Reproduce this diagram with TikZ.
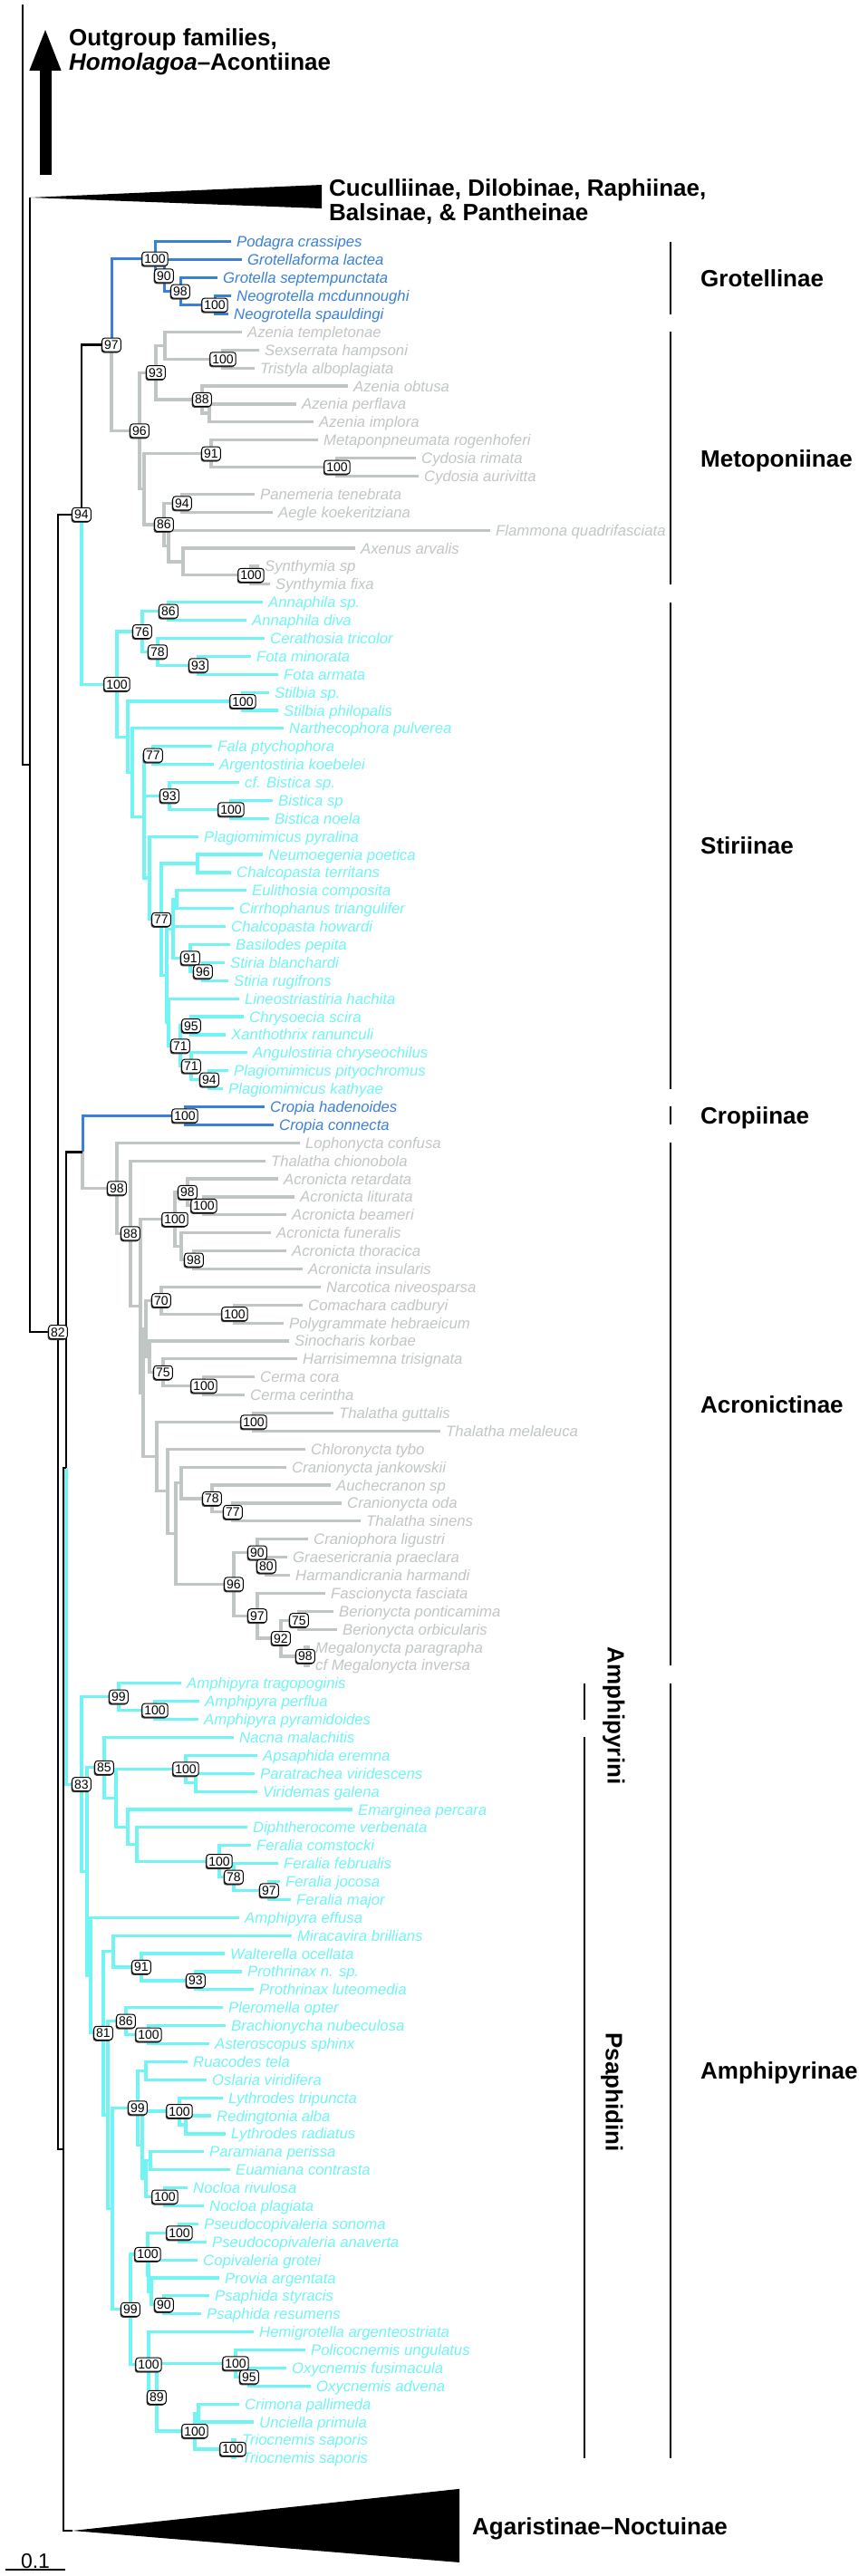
\documentclass[tikz,border=0pt]{standalone}
\usepackage{fontspec}
\setmainfont{Liberation Sans}
\usetikzlibrary{arrows.meta, shadows}
\definecolor{grotblue}{RGB}{58,128,214}
\definecolor{metgray}{RGB}{192,198,196}
\definecolor{stircyan}{RGB}{112,244,244}

\begin{document}
\begin{tikzpicture}[x=1pt, y=-19.885pt,
  taxon/.style={anchor=west, inner xsep=6pt, inner ysep=0pt, font=\fontsize{16.7}{18}\selectfont\itshape, text height=12pt, text depth=0pt},
  inode/.style={inner sep=0pt, outer sep=0pt, minimum size=0pt},
  boot/.style={draw=black, fill=white, rounded corners=3pt, line width=1pt, inner xsep=2.5pt, inner ysep=2.5pt, font=\fontsize{14}{14}\selectfont, text height=10pt, text depth=0pt,
    drop shadow={shadow xshift=-1pt, shadow yshift=-1.5pt, fill=black!75, opacity=1}},
  blk/.style={draw=black, line width=2.5pt},
  bluebr/.style={draw=grotblue, line width=3pt},
  graybr/.style={draw=metgray, line width=3.2pt},
  cyanbr/.style={draw=stircyan, line width=3.2pt},
  cladebar/.style={draw=black, line width=2.5pt},
  grp/.style={anchor=west, inner sep=0pt, font=\fontsize{26}{29}\selectfont\bfseries, text height=19pt, text depth=0pt},
  grptwo/.style={anchor=west, inner sep=0pt, align=left, font=\fontsize{26}{27}\selectfont\bfseries}
]
  \useasboundingbox (0,-12.4273) rectangle (948,130.546);

  % internal nodes
  \foreach \n/\x/\y in {rtop/25/-12.18, nA/33/30.02, cuc/33/-1.464, n82/64/61.5, nE/70/106.87, nC/73/69.05, agar/80/128.03,
    gN/237/4.5, g98/199/3.75, g90/181/2.875, g100/171/1.94,
    m100a/246/7.5, mU2/182/6.75, mU3/231/10.5, m88/223/9.75, m93/172/8.25, m100b/372/13.5, m91/233/12.75, m94/201/15.5,
    m100c/277/19.5, mU5/202/18.75, mU4/186/17.875, m86/181/16.69, mU1/159/14.72, m96/154/11.48, n97/123/6.71,
    s86/186/21.5, s93f/219/24.5, s78/174/23.75, s76/157/22.625, s100st/268/26.5, s77a/169/29.5, s100bi/255/32.5, s93b/187/31.75,
    sU10/218/35.5, sU12/195/37.5, s96/224/41.5, s91/210/40.75, sU13/191/39.125, s95/211/44.5, s94b/231/47.5, s71b/211/46.75,
    s71a/199/45.625, sU15/186/44.31, sU14/184/41.72, s77b/178/38.61, sU19/165/36.3, sU9/159/32.9, sU8/146/30.45, sU7/141/28.48,
    s100/129/25.55, n94/90/16.13,
    c100/204/49.5,
    a100lb/225/54.5, a98a/207/53.75, a98b/214/57.5, aU22/200/56.75, a100acr/193/55.25, a100cp/259/60.5, a70/178/59.75,
    a100ce/225/64.5, a75/180/63.75, aU24/165/62.875, aU23/161/61.31, a100th/280/66.5, a77c/257/71.5, a78c/234/70.75,
    aU28/200/69.875, a80/294/74.5, a90/284/73.75, a98c/337/79.5, a75b/330/77.5, a92/310/78.5, a97/284/77.25, a96/258/75.5,
    aU27/194/72.69, aU26/185/70.34, aU25/173/68.42, aU21/158/64.87, aU20/155/60.06, a88/144/56.03, a98/129/53.52, cU6/91/51.51,
    p100am/171/82.5, p99am/131/81.75, pU31/216/86.5, p100ap/205/85.75, p97fe/297/92.5, p78fe/258/91.75, p100fe/242/90.875,
    pU33/151/89.94, pU32/141/88.97, pU35/128/87.36, p85/115/85.68, p93p/216/97.5, p91p/156/96.75, pU36/125/95.875,
    p100br/164/100.5, p86p/139/99.75, pU40/161/102.5, pU42/205/105.5, p100ly/198/104.75, pU44/166/107.5, p100no/182/109.5,
    pU45/161/108.5, pU46/157/106.625, p99ps1/152/104.56, p100pc/198/111.5, p90ps/181/115.5, pU47/167/114.75, pU48/164/113.875,
    p100cv/163/112.69, p95ox/275/119.5, p100ox/260/118.75, pU50/219/121.5, p100tr/257/123.5, p100cr2/215/122.5, p89/173/120.625,
    p100he/164/118.81, p99ps2/144/115.75, pU38/124/110.16, pU51/119/104.95, p81/114/100.41, pU39/100/97.2, pP0/96/91.44, p83/90/86.6}
    \node[inode] (\n) at (\x,\y) {};

  % taxa
  \foreach \x/\txt [count=\i from 1] in {255/Podagra crassipes, 267/Grotellaforma lactea, 240/Grotella septempunctata,
    255/Neogrotella mcdunnoughi, 252/Neogrotella spauldingi}
    \node[taxon, text=grotblue] (t\i) at (\x,\i) {\txt};
  \foreach \x/\txt [count=\i from 6] in {267/Azenia templetonae, 286/Sexserrata hampsoni, 281/Tristyla alboplagiata,
    384/Azenia obtusa, 327/Azenia perflava, 346/Azenia implora, 351/Metaponpneumata rogenhoferi, 459/Cydosia rimata,
    462/Cydosia aurivitta, 281/Panemeria tenebrata, 301/Aegle koekeritziana, 541/Flammona quadrifasciata,
    392/Axenus arvalis, 286/Synthymia sp, 298/Synthymia fixa}
    \node[taxon, text=metgray] (t\i) at (\x,\i) {\txt};
  \foreach \x/\txt [count=\i from 21] in {290/Annaphila sp., 272/Annaphila diva, 292/Cerathosia tricolor, 277/Fota minorata,
    307/Fota armata, 297/Stilbia sp., 307/Stilbia philopalis, 313/Narthecophora pulverea, 234/Fala ptychophora,
    236/Argentostiria koebelei, 264/cf. Bistica sp., 301/Bistica sp, 297/Bistica noela, 219/Plagiomimicus pyralina,
    290/Neumoegenia poetica, 255/Chalcopasta territans, 272/Eulithosia composita, 258/Cirrhophanus triangulifer,
    249/Chalcopasta howardi, 254/Basilodes pepita, 248/Stiria blanchardi, 252/Stiria rugifrons,
    264/Lineostriastiria hachita, 269/Chrysoecia scira, 249/Xanthothrix ranunculi, 273/Angulostiria chryseochilus,
    252/Plagiomimicus pityochromus, 246/Plagiomimicus kathyae}
    \node[taxon, text=stircyan] (t\i) at (\x,\i) {\txt};
  \foreach \x/\txt [count=\i from 49] in {292/Cropia hadenoides, 302/Cropia connecta}
    \node[taxon, text=grotblue] (t\i) at (\x,\i) {\txt};
  \foreach \x/\txt [count=\i from 51] in {331/Lophonycta confusa, 293/Thalatha chionobola, 307/Acronicta retardata,
    325/Acronicta liturata, 316/Acronicta beameri, 299/Acronicta funeralis, 316/Acronicta thoracica,
    334/Acronicta insularis, 354/Narcotica niveosparsa, 334/Comachara cadburyi, 313/Polygrammate hebraeicum,
    319/Sinocharis korbae, 328/Harrisimemna trisignata, 281/Cerma cora, 270/Cerma cerintha, 368/Thalatha guttalis,
    486/Thalatha melaleuca, 337/Chloronycta tybo, 316/Cranionycta jankowskii, 365/Auchecranon sp, 377/Cranionycta oda,
    398/Thalatha sinens, 340/Craniophora ligustri, 317/Graesericrania praeclara, 320/Harmandicrania harmandi,
    359/Fascionycta fasciata, 368/Berionycta ponticamima, 372/Berionycta orbicularis, 342/Megalonycta paragrapha,
    342/cf Megalonycta inversa}
    \node[taxon, text=metgray] (t\i) at (\x,\i) {\txt};
  \foreach \x/\txt [count=\i from 81] in {200/Amphipyra tragopoginis, 220/Amphipyra perflua, 219/Amphipyra pyramidoides,
    258/Nacna malachitis, 284/Apsaphida eremna, 281/Paratrachea viridescens, 284/Viridemas galena, 389/Emarginea percara,
    273/Diphtherocome verbenata, 277/Feralia comstocki, 307/Feralia februalis, 309/Feralia jocosa, 321/Feralia major,
    264/Amphipyra effusa, 322/Miracavira brillians, 248/Walterella ocellata, 267/Prothrinax n. sp.,
    280/Prothrinax luteomedia, 246/Pleromella opter, 249/Brachionycha nubeculosa, 231/Asteroscopus sphinx,
    207/Ruacodes tela, 228/Oslaria viridifera, 246/Lythrodes tripuncta, 233/Redingtonia alba, 249/Lythrodes radiatus,
    225/Paramiana perissa, 254/Euamiana contrasta, 207/Nocloa rivulosa, 225/Nocloa plagiata,
    219/Pseudocopivaleria sonoma, 228/Pseudocopivaleria anaverta, 218/Copivaleria grotei, 242/Provia argentata,
    231/Psaphida styracis, 222/Psaphida resumens, 280/Hemigrotella argenteostriata, 337/Policocnemis ungulatus,
    316/Oxycnemis fusimacula, 343/Oxycnemis advena, 264/Crimona pallimeda, 280/Unciella primula,
    261/Triocnemis saporis, 261/Triocnemis saporis}
    \node[taxon, text=stircyan] (t\i) at (\x,\i) {\txt};

  % branches
  \foreach \p/\c in {n97/m96, m96/m93, m96/mU1, m93/mU2, m93/m88, mU2/t6, mU2/m100a, m100a/t7, m100a/t8, m88/t9, m88/mU3,
    mU3/t10, mU3/t11, mU1/m91, mU1/m86, m91/t12, m91/m100b, m100b/t13, m100b/t14, m86/m94, m86/mU4, m94/t15, m94/t16,
    mU4/t17, mU4/mU5, mU5/t18, mU5/m100c, m100c/t19, m100c/t20,
    cU6/a98, a98/t51, a98/a88, a88/t52, a88/aU20, aU20/a100acr, aU20/aU21, a100acr/a98a, a100acr/aU22, a98a/t53,
    a98a/a100lb, a100lb/t54, a100lb/t55, aU22/t56, aU22/a98b, a98b/t57, a98b/t58, aU21/aU23, aU21/aU25, aU23/a70,
    aU23/aU24, a70/t59, a70/a100cp, a100cp/t60, a100cp/t61, aU24/t62, aU24/a75, a75/t63, a75/a100ce, a100ce/t64,
    a100ce/t65, aU25/a100th, aU25/aU26, a100th/t66, a100th/t67, aU26/t68, aU26/aU27, aU27/aU28, aU27/a96, aU28/t69,
    aU28/a78c, a78c/t70, a78c/a77c, a77c/t71, a77c/t72, a96/a90, a96/a97, a90/t73, a90/a80, a80/t74, a80/t75, a97/t76,
    a97/a92, a92/a75b, a92/a98c, a75b/t77, a75b/t78, a98c/t79, a98c/t80}
    \draw[graybr] (\p) |- (\c.west);
  \foreach \p/\c in {n94/s100, s100/s76, s100/sU7, s76/s86, s76/s78, s86/t21, s86/t22, s78/t23, s78/s93f, s93f/t24,
    s93f/t25, sU7/s100st, sU7/sU8, s100st/t26, s100st/t27, sU8/t28, sU8/sU9, sU9/s77a, sU9/s93b, sU9/sU19, s77a/t29,
    s77a/t30, s93b/t31, s93b/s100bi, s100bi/t32, s100bi/t33, sU19/t34, sU19/s77b, s77b/sU10, s77b/sU14, sU10/t35,
    sU10/t36, sU14/sU13, sU14/sU15, sU13/sU12, sU13/t39, sU13/s91, sU12/t37, sU12/t38, s91/t40, s91/s96, s96/t41,
    s96/t42, sU15/t43, sU15/s71a, s71a/s95, s71a/s71b, s95/t44, s95/t45, s71b/t46, s71b/s94b, s94b/t47, s94b/t48,
    nC/p83, p83/p99am, p83/pP0, p99am/t81, p99am/p100am, p100am/t82, p100am/t83, pP0/p85, pP0/pU39, p85/t84, p85/pU35,
    pU35/p100ap, pU35/pU32, p100ap/t85, p100ap/pU31, pU31/t86, pU31/t87, pU32/t88, pU32/pU33, pU33/t89, pU33/p100fe,
    p100fe/t90, p100fe/p78fe, p78fe/t91, p78fe/p97fe, p97fe/t92, p97fe/t93, pU39/t94, pU39/p81, p81/pU36, p81/pU51,
    pU36/t95, pU36/p91p, p91p/t96, p91p/p93p, p93p/t97, p93p/t98, pU51/p86p, pU51/pU38, p86p/t99, p86p/p100br,
    p100br/t100, p100br/t101, pU38/p99ps1, pU38/p99ps2, p99ps1/pU40, p99ps1/pU46, pU40/t102, pU40/t103, pU46/p100ly,
    pU46/pU45, p100ly/t104, p100ly/pU42, pU42/t105, pU42/t106, pU45/pU44, pU45/p100no, pU44/t107, pU44/t108,
    p100no/t109, p100no/t110, p99ps2/p100cv, p99ps2/p100he, p100cv/p100pc, p100cv/pU48, p100pc/t111, p100pc/t112,
    pU48/t113, pU48/pU47, pU47/t114, pU47/p90ps, p90ps/t115, p90ps/t116, p100he/t117, p100he/p89, p89/p100ox,
    p89/p100cr2, p100ox/t118, p100ox/p95ox, p95ox/t119, p95ox/t120, p100cr2/pU50, p100cr2/p100tr, pU50/t121,
    pU50/t122, p100tr/t123, p100tr/t124}
    \draw[cyanbr] (\p) |- (\c.west);
  \foreach \p/\c in {n97/g100, g100/t1, g100/g90, g90/t2, g90/g98, g98/t3, g98/gN, gN/t4, gN/t5,
    cU6/c100, c100/t49, c100/t50}
    \draw[bluebr] (\p) |- (\c.west);
  \foreach \p/\c in {rtop/nA, nA/cuc, nA/n82, n82/n94, n82/nE, n94/n97, nE/nC, nE/agar, nC/cU6}
    \draw[blk] (\p) |- (\c.west);

  % collapsed clades and outgroup arrow
  \fill (cuc) -- (355,-2.168) -- (355,-0.86) -- cycle;
  \fill (agar) -- (507,125.71) -- (507,129.79) -- cycle;
  \coordinate (ogbase) at (50,-2.72);
  \coordinate (ogtip) at (50,-10.92);
  \draw[line width=13pt, -{Triangle[length=48pt, width=31pt]}] (ogbase) -- (ogtip);

  % bootstrap values
  \foreach \n/\v in {g100/100, g90/90, g98/98, gN/100, n97/97, n94/94, m96/96, m93/93, m100a/100, m88/88, m91/91,
    m100b/100, m94/94, m86/86, m100c/100, s100/100, s86/86, s76/76, s78/78, s93f/93, s100st/100, s77a/77, s93b/93,
    s100bi/100, s77b/77, s91/91, s96/96, s95/95, s71a/71, s71b/71, s94b/94, c100/100, a98/98, a88/88, a98a/98,
    a100lb/100, a100acr/100, a98b/98, a70/70, a100cp/100, a75/75, a100ce/100, a100th/100, a78c/78, a77c/77, a96/96,
    a90/90, a80/80, a97/97, a75b/75, a92/92, a98c/98, p99am/99, p100am/100, p83/83, p85/85, p100ap/100, p100fe/100,
    p78fe/78, p97fe/97, p91p/91, p93p/93, p86p/86, p81/81, p100br/100, p99ps1/99, p100ly/100, p100no/100, p100pc/100,
    p100cv/100, p90ps/90, p99ps2/99, p100he/100, p100ox/100, p95ox/95, p89/89, p100cr2/100, p100tr/100, n82/82}
    \node[boot] (b\n) at (\n) {\v};

  % clade bars and names
  \draw[cladebar] (740,1) -- (740,5);
  \draw[cladebar] (740,6) -- (740,20);
  \draw[cladebar] (740,21) -- (740,48);
  \draw[cladebar] (740,49) -- (740,50);
  \draw[cladebar] (740,51) -- (740,80);
  \draw[cladebar] (740,81) -- (740,124);
  \draw[cladebar] (645,81) -- (645,83);
  \draw[cladebar] (645,84) -- (645,124);
  \node[grp] (lgrot) at (773,3) {Grotellinae};
  \node[grp] (lmeto) at (773,13) {Metoponiinae};
  \node[grp] (lstir) at (773,34.5) {Stiriinae};
  \node[grp] (lcrop) at (773,49.5) {Cropiinae};
  \node[grp] (lacro) at (773,65.5) {Acronictinae};
  \node[grp] (lamph) at (773,102.5) {Amphipyrinae};
  \node[grp, anchor=center, rotate=-90] (lamini) at (680,82.8) {Amphipyrini};
  \node[grp, anchor=center, rotate=-90] (lpsaph) at (678,103.7) {Psaphidini};
  \node[grptwo] (lout) at (76,-9.535) {Outgroup families,\\\textit{Homolagoa}--Acontiinae};
  \node[grptwo] (lcuc) at (363,-1.212) {Cuculliinae, Dilobinae, Raphiinae,\\Balsinae, \& Pantheinae};
  \node[grp] (lagar) at (521,127.78) {Agaristinae--Noctuinae};

  % scale
  \draw[line width=1.5pt] (6,130.19) -- (72,130.19);
  \node[anchor=south, inner sep=1pt, font=\fontsize{23}{23}\selectfont] (lscale) at (39,130.19) {0.1};
\end{tikzpicture}
\end{document}
